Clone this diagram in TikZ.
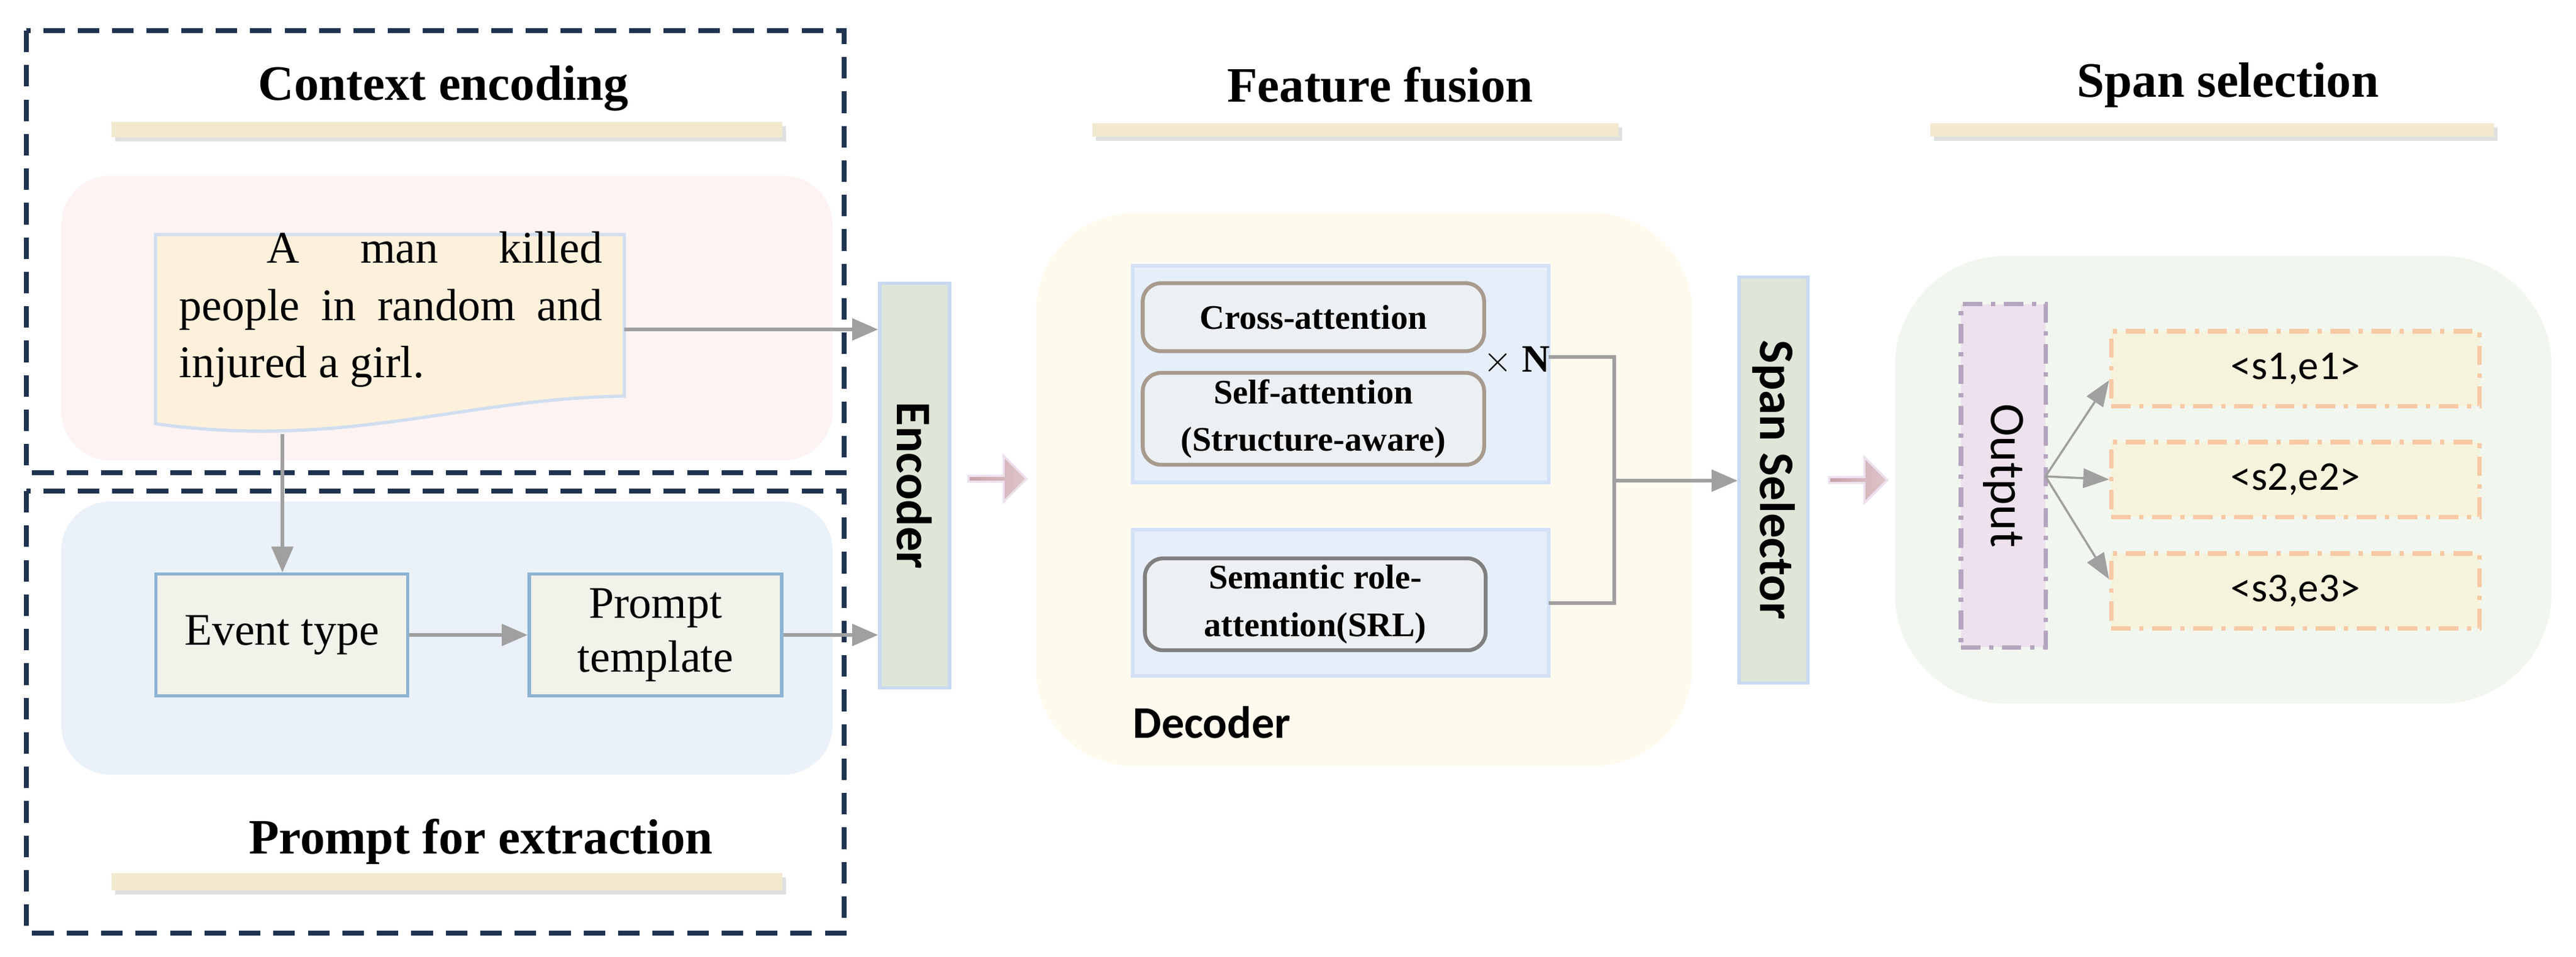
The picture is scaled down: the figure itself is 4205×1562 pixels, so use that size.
\documentclass[tikz,border=0pt]{standalone}
\usepackage{fontspec}
\setmainfont{Liberation Serif}
\newfontfamily\carl{Carlito}
\usetikzlibrary{shapes.arrows,arrows.meta}
\definecolor{dashc}{HTML}{1F3350}
\definecolor{pinkbg}{HTML}{FDF3F3}
\definecolor{bluebg}{HTML}{EAF1F9}
\definecolor{docf}{HTML}{FDF1DC}
\definecolor{docb}{HTML}{D0DEF0}
\definecolor{evf}{HTML}{F2F1EA}
\definecolor{evb}{HTML}{8DB3D3}
\definecolor{encf}{HTML}{DEE6D8}
\definecolor{encb}{HTML}{C9D9F2}
\definecolor{decbg}{HTML}{FEFAEE}
\definecolor{panf}{HTML}{E6EEF9}
\definecolor{panb}{HTML}{D4E2F8}
\definecolor{attf}{HTML}{EDF0F3}
\definecolor{attb}{HTML}{A89B8E}
\definecolor{greenbg}{HTML}{F1F6EE}
\definecolor{outf}{HTML}{EDE1ED}
\definecolor{outb}{HTML}{B5A5C0}
\definecolor{sf}{HTML}{F6F3DC}
\definecolor{sb}{HTML}{F7C9A5}
\definecolor{barc}{HTML}{F3E9CF}
\definecolor{arrc}{HTML}{A0A0A0}
\definecolor{blk}{HTML}{C9A0A8}
\tikzset{
  x=0.01cm,y=-0.01cm,
  dbox/.style={draw=dashc,line width=2.2pt,dash pattern=on 10pt off 6pt},
  title/.style={font=\bfseries\fontsize{23}{26}\selectfont},
  bar/.style={fill=barc},
  barsh/.style={fill=black!12},
  arr/.style={draw=arrc,line width=1.6pt,-{Triangle[length=12pt,width=10pt]}},
  thinarr/.style={draw=arrc,line width=1pt,-{Triangle[length=12pt,width=9pt]}},
  wire/.style={draw=arrc,line width=1.6pt},
  evbox/.style={draw=evb,fill=evf,line width=1.5pt,font=\fontsize{21}{25}\selectfont,align=center,inner sep=0pt},
  vbar/.style={draw=encb,fill=encf,line width=1.5pt,inner sep=0pt},
  att/.style={draw=attb,fill=attf,line width=1.8pt,rounded corners=0.3cm,font=\bfseries\fontsize{16}{22}\selectfont,align=center,inner sep=0pt},
  blockarr/.style={single arrow,single arrow head extend=0.12cm,minimum height=0.95cm,minimum width=0.75cm,inner sep=0pt,left color=blk,right color=blk!60,draw=outf,line width=1pt},
  sbox/.style={draw=sb,fill=sf,line width=2pt,dash pattern=on 9pt off 4pt on 2pt off 4pt,minimum width=6.01cm,minimum height=1.22cm,font=\carl\fontsize{19}{22}\selectfont,inner sep=0pt},
}
\begin{document}
\begin{tikzpicture}
\useasboundingbox (0,0) rectangle (4205,1562);
% left panel
\fill[pinkbg,rounded corners=0.8cm] (100,287) rectangle (1359,752);
\fill[bluebg,rounded corners=0.8cm] (100,819) rectangle (1359,1265);
\draw[dbox] (43,50) rectangle (1378,772);
\draw[dbox] (43,802) rectangle (1378,1524);
% titles and bars
\foreach \a/\b/\c/\d in {182/199/1277/224,182/1426/1277/1454,1783/201/2642/223,3151/201/4071/223}{
  \fill[barsh] (\a+6,\b+7) rectangle (\c+6,\d+7);
  \fill[bar] (\a,\b) rectangle (\c,\d);}
\node[title] (t1) at (724,144) {Context encoding};
\node[title] (t2) at (785,1375) {Prompt for extraction};
\node[title] (t3) at (2253,139) {Feature fusion};
\node[title] (t4) at (3637,139) {Span selection};
% document
\draw[docb,fill=docf,line width=1.5pt] (254,383) -- (1019,383) -- (1019,647)
  .. controls (760,650) and (560,735) .. (254,692) -- cycle;
\node[inner sep=0pt,anchor=north west] (doc) at (292,378) {\parbox{6.9cm}{\fontsize{21}{26.5}\selectfont\setlength\parindent{0pt}\noindent\hspace*{1.43cm}A man killed\linebreak people in random and\linebreak injured a girl.\par}};
\coordinate (docr) at (1019,538);
\coordinate (docbot) at (461,709);
\node[evbox,minimum width=4.11cm,minimum height=1.99cm] (ev) at (460,1037) {Event type};
\node[evbox,minimum width=4.12cm,minimum height=1.99cm] (pt) at (1070,1037) {Prompt\\template};
\node[vbar,minimum width=1.14cm,minimum height=6.61cm] (enc) at (1493,793) {};
\node[rotate=-90,font=\carl\bfseries\fontsize{23}{26}\selectfont] (enct) at (enc.center) {Encoder};
\draw[arr] (docr) -- (docr -| enc.west);
\draw[arr] (docbot) -- (ev.north -| docbot);
\draw[arr] (ev.east) -- (pt.west);
\draw[arr] (pt.east) -- (pt.east -| enc.west);
% decoder
\node[blockarr] (ba1) at (1626,782) {};
\fill[decbg,rounded corners=1.6cm] (1691,348) rectangle (2762,1251);
\draw[panb,fill=panf,line width=1.5pt] (1849,434) rectangle (2528,788);
\draw[panb,fill=panf,line width=1.5pt] (1849,865) rectangle (2528,1104);
\node[att,minimum width=5.57cm,minimum height=1.11cm] (ca) at (2144,518) {Cross-attention};
\node[att,minimum width=5.57cm,minimum height=1.5cm] (sa) at (2144,684) {Self-attention\\(Structure-aware)};
\node[att,draw=gray,minimum width=5.56cm,minimum height=1.5cm] (srl) at (2147,987) {Semantic role-\\attention(SRL)};
\node[font=\bfseries\fontsize{18}{20}\selectfont,inner sep=0pt] (xn) at (2476,589) {$\times$ N};
\node[anchor=west,font=\carl\bfseries\fontsize{21}{24}\selectfont,inner sep=0pt] (dec) at (1849,1180) {Decoder};
\coordinate (p1) at (2528,583);
\coordinate (p2) at (2528,985);
\coordinate (jn) at (2635,785);
\node[vbar,minimum width=1.12cm,minimum height=6.62cm] (sp) at (2895,784) {};
\node[rotate=-90,font=\carl\bfseries\fontsize{23}{26}\selectfont] (spt) at (sp.center) {Span Selector};
\draw[wire] (p1) -- (p1 -| jn) -- (p2 -| jn) -- (p2);
\draw[arr] (jn) -- (jn -| sp.west);
% span selection
\node[blockarr] (ba2) at (3031,784) {};
\fill[greenbg,rounded corners=1.8cm] (3093,418) rectangle (4165,1149);
\node[draw=outb,fill=outf,line width=2pt,dash pattern=on 9pt off 4pt on 2pt off 4pt,minimum width=1.38cm,minimum height=5.6cm,inner sep=0pt] (out) at (3270,777) {};
\node[rotate=-90,font=\carl\fontsize{23}{26}\selectfont] (outt) at (out.center) {Output};
\node[sbox] (s1) at (3747,602) {<s1,e1>};
\node[sbox] (s2) at (3747,783) {<s2,e2>};
\node[sbox] (s3) at (3747,965) {<s3,e3>};
\coordinate (o) at (3339,778);
\draw[thinarr] (o) -- (s1.west |- 0,621);
\draw[thinarr] (o) -- (s2.west);
\draw[thinarr] (o) -- (s3.west |- 0,946);
\end{tikzpicture}
\end{document}
